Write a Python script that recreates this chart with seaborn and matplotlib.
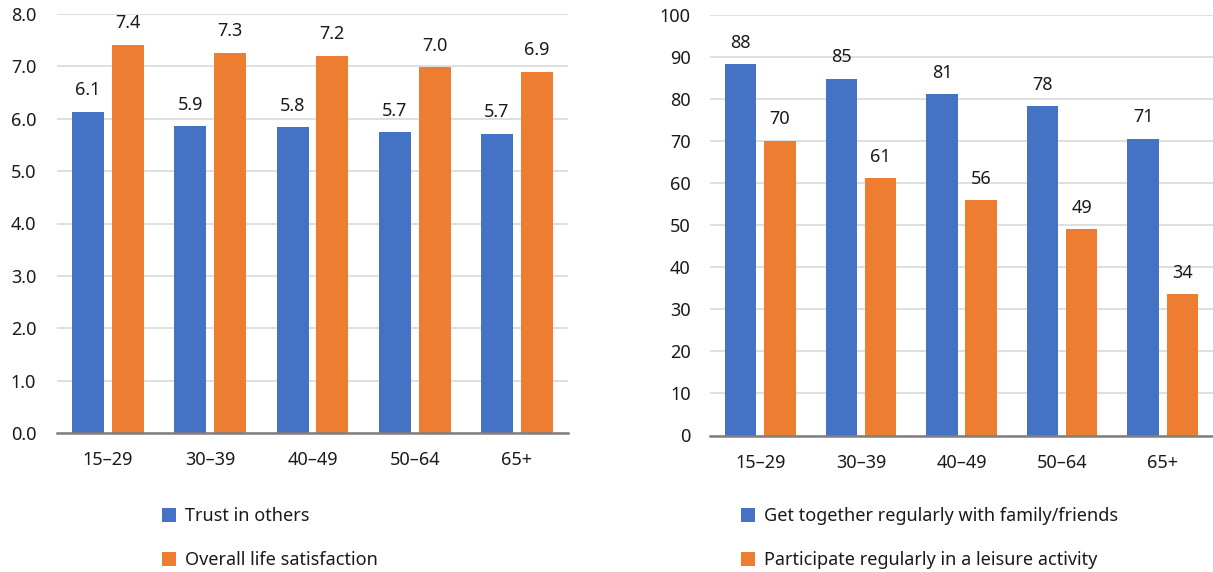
import matplotlib
matplotlib.use("Agg")
import matplotlib.pyplot as plt
from matplotlib.patches import Patch
import seaborn as sns
import pandas as pd

# Age groups shared by both panels
age_groups = ["15\u201329", "30\u201339", "40\u201349", "50\u201364", "65+"]

# Left panel: mean scores (0-10 scale)
trust_in_others = [6.13, 5.86, 5.84, 5.74, 5.71]
life_satisfaction = [7.41, 7.26, 7.20, 6.98, 6.90]
left_series = ["Trust in others", "Overall life satisfaction"]

# Right panel: share of people (%)
meet_family_friends = [88.3, 84.8, 81.1, 78.3, 70.6]
leisure_activity = [70.1, 61.2, 55.9, 49.1, 33.6]
right_series = ["Get together regularly with family/friends",
                "Participate regularly in a leisure activity"]

BLUE = "#4472C4"
ORANGE = "#ED7D31"
GRID = "#D9D9D9"
AXIS = "#7F7F7F"
TEXT = "#1a1a1a"

sns.set_theme(style="white")
plt.rcParams["font.family"] = ["Noto Sans", "DejaVu Sans"]
plt.rcParams["text.color"] = TEXT

FS = 13


def long_frame(s1, s2, names):
    return pd.DataFrame({
        "age": age_groups * 2,
        "value": list(s1) + list(s2),
        "series": [names[0]] * len(age_groups) + [names[1]] * len(age_groups),
    })


def draw_panel(ax, df, names, ymax, step, fmt, tick_fmt, ypad):
    sns.barplot(data=df, x="age", y="value", hue="series", hue_order=names,
                palette=[BLUE, ORANGE], width=0.78, gap=0.2,
                legend=False, ax=ax, saturation=1, linewidth=0)
    ax.set_ylim(0, ymax)
    ticks = [i * step for i in range(int(round(ymax / step)) + 1)]
    ax.set_yticks(ticks)
    ax.set_yticklabels([tick_fmt.format(t) for t in ticks])
    ax.set_xlim(-0.5, len(age_groups) - 0.5)
    ax.set_xlabel("")
    ax.set_ylabel("")
    ax.grid(axis="y", color=GRID, linewidth=1.2)
    ax.set_axisbelow(True)
    for side in ["left", "right", "top"]:
        ax.spines[side].set_visible(False)
    ax.spines["bottom"].set_color(AXIS)
    ax.spines["bottom"].set_linewidth(1.8)
    ax.tick_params(axis="x", length=0, pad=13, labelsize=FS, labelcolor=TEXT)
    ax.tick_params(axis="y", length=0, pad=ypad, labelsize=FS, labelcolor=TEXT)
    for cont in ax.containers:
        ax.bar_label(cont, labels=[fmt.format(b.get_height()) for b in cont],
                     padding=9, fontsize=FS, color=TEXT)


fig = plt.figure(figsize=(12.13, 5.72), dpi=100)
ax1 = fig.add_axes([57 / 1213, 139 / 572, 511 / 1213, 419 / 572])
ax2 = fig.add_axes([710 / 1213, 136.5 / 572, 503 / 1213, 420.5 / 572])

draw_panel(ax1, long_frame(trust_in_others, life_satisfaction, left_series),
           left_series, 8.0, 1.0, "{:.1f}", "{:.1f}", 15)
draw_panel(ax2, long_frame(meet_family_friends, leisure_activity, right_series),
           right_series, 100, 10, "{:.0f}", "{:.0f}", 14)


def add_legend(names, x_left):
    handles = [Patch(facecolor=BLUE, edgecolor="none"),
               Patch(facecolor=ORANGE, edgecolor="none")]
    fig.legend(handles, names, loc="upper left",
               bbox_to_anchor=(x_left / 1213, 1 - 507 / 572),
               frameon=False, fontsize=FS, handlelength=0.8, handleheight=0.8,
               handletextpad=0.5, labelspacing=1.45, borderpad=0, borderaxespad=0)


add_legend(left_series, 162)
add_legend(right_series, 741)

fig.savefig("out.png", dpi=100)
